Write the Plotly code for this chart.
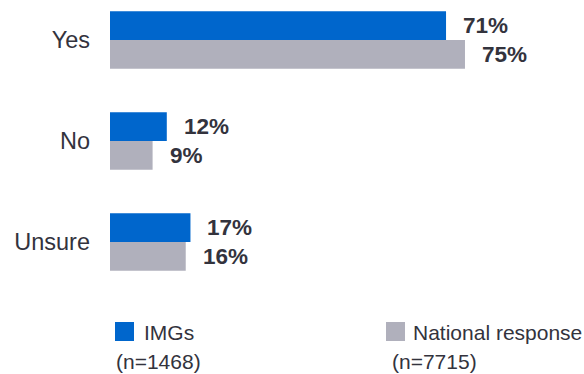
import plotly.graph_objects as go

# Survey answers and shares (%)
categories = ["Yes", "No", "Unsure"]
imgs_pct = [71, 12, 17]
national_pct = [75, 9, 16]
series_names = ["IMGs", "National response"]
sample_sizes = ["(n=1468)", "(n=7715)"]

BLUE = "#0066CC"
GREY = "#B0B0BC"
TEXT = "#33333d"
FONT = "Liberation Sans, Arial, sans-serif"

W, H = 584, 374
ML, MR, MT, MB = 110, 0, 0, 74
PW, PH = W - ML - MR, H - MT - MB


def px_x(x):
    return (x - ML) / PW


def px_y(y):
    return 1 - (y - MT) / PH


fig = go.Figure()
for name, vals, color in [(series_names[0], imgs_pct, BLUE), (series_names[1], national_pct, GREY)]:
    fig.add_trace(go.Bar(
        y=categories, x=vals, name=name, orientation="h",
        marker=dict(color=color, line=dict(width=0)),
        showlegend=False,
    ))

# value labels placed beside each bar end
bar_w = (1 - 0.43) / 2
annotations = []
for i, cat in enumerate(categories):
    for vals, off in [(imgs_pct, -bar_w / 2), (national_pct, bar_w / 2)]:
        annotations.append(dict(
            x=vals[i], y=i + off, xref="x", yref="y",
            text=f"<b>{vals[i]}%</b>", showarrow=False,
            xanchor="left", yanchor="middle", xshift=15,
            font=dict(size=22.5, color=TEXT, family=FONT),
        ))

# custom legend with sample sizes
shapes = []
legend_items = [(115, 142, 115, BLUE, series_names[0], sample_sizes[0]),
                (386, 411, 391, GREY, series_names[1], sample_sizes[1])]
for sq_x, txt_x, n_x, color, label, n_txt in legend_items:
    shapes.append(dict(
        type="rect", xref="paper", yref="paper",
        x0=px_x(sq_x), x1=px_x(sq_x + 19), y0=px_y(322), y1=px_y(341),
        fillcolor=color, line=dict(width=0),
    ))
    annotations.append(dict(
        x=px_x(txt_x), y=px_y(332), xref="paper", yref="paper",
        text=label, showarrow=False, xanchor="left", yanchor="middle",
        font=dict(size=21, color=TEXT, family=FONT),
    ))
    annotations.append(dict(
        x=px_x(n_x), y=px_y(361), xref="paper", yref="paper",
        text=n_txt, showarrow=False, xanchor="left", yanchor="middle",
        font=dict(size=21, color=TEXT, family=FONT),
        borderpad=0,
    ))

top = -40 / 101
fig.update_layout(
    width=W, height=H,
    margin=dict(l=ML, r=MR, t=MT, b=MB, pad=0),
    barmode="group", bargap=0.43, bargroupgap=0,
    plot_bgcolor="white", paper_bgcolor="white",
    xaxis=dict(range=[0, PW / 4.733], visible=False, fixedrange=True),
    yaxis=dict(
        type="category", range=[top + PH / 101, top],
        showgrid=False, zeroline=False, showline=False,
        ticks="", ticklabelstandoff=19,
        tickfont=dict(size=23.5, color=TEXT, family=FONT),
    ),
    annotations=annotations,
    shapes=shapes,
)

fig.write_html("out.html")
